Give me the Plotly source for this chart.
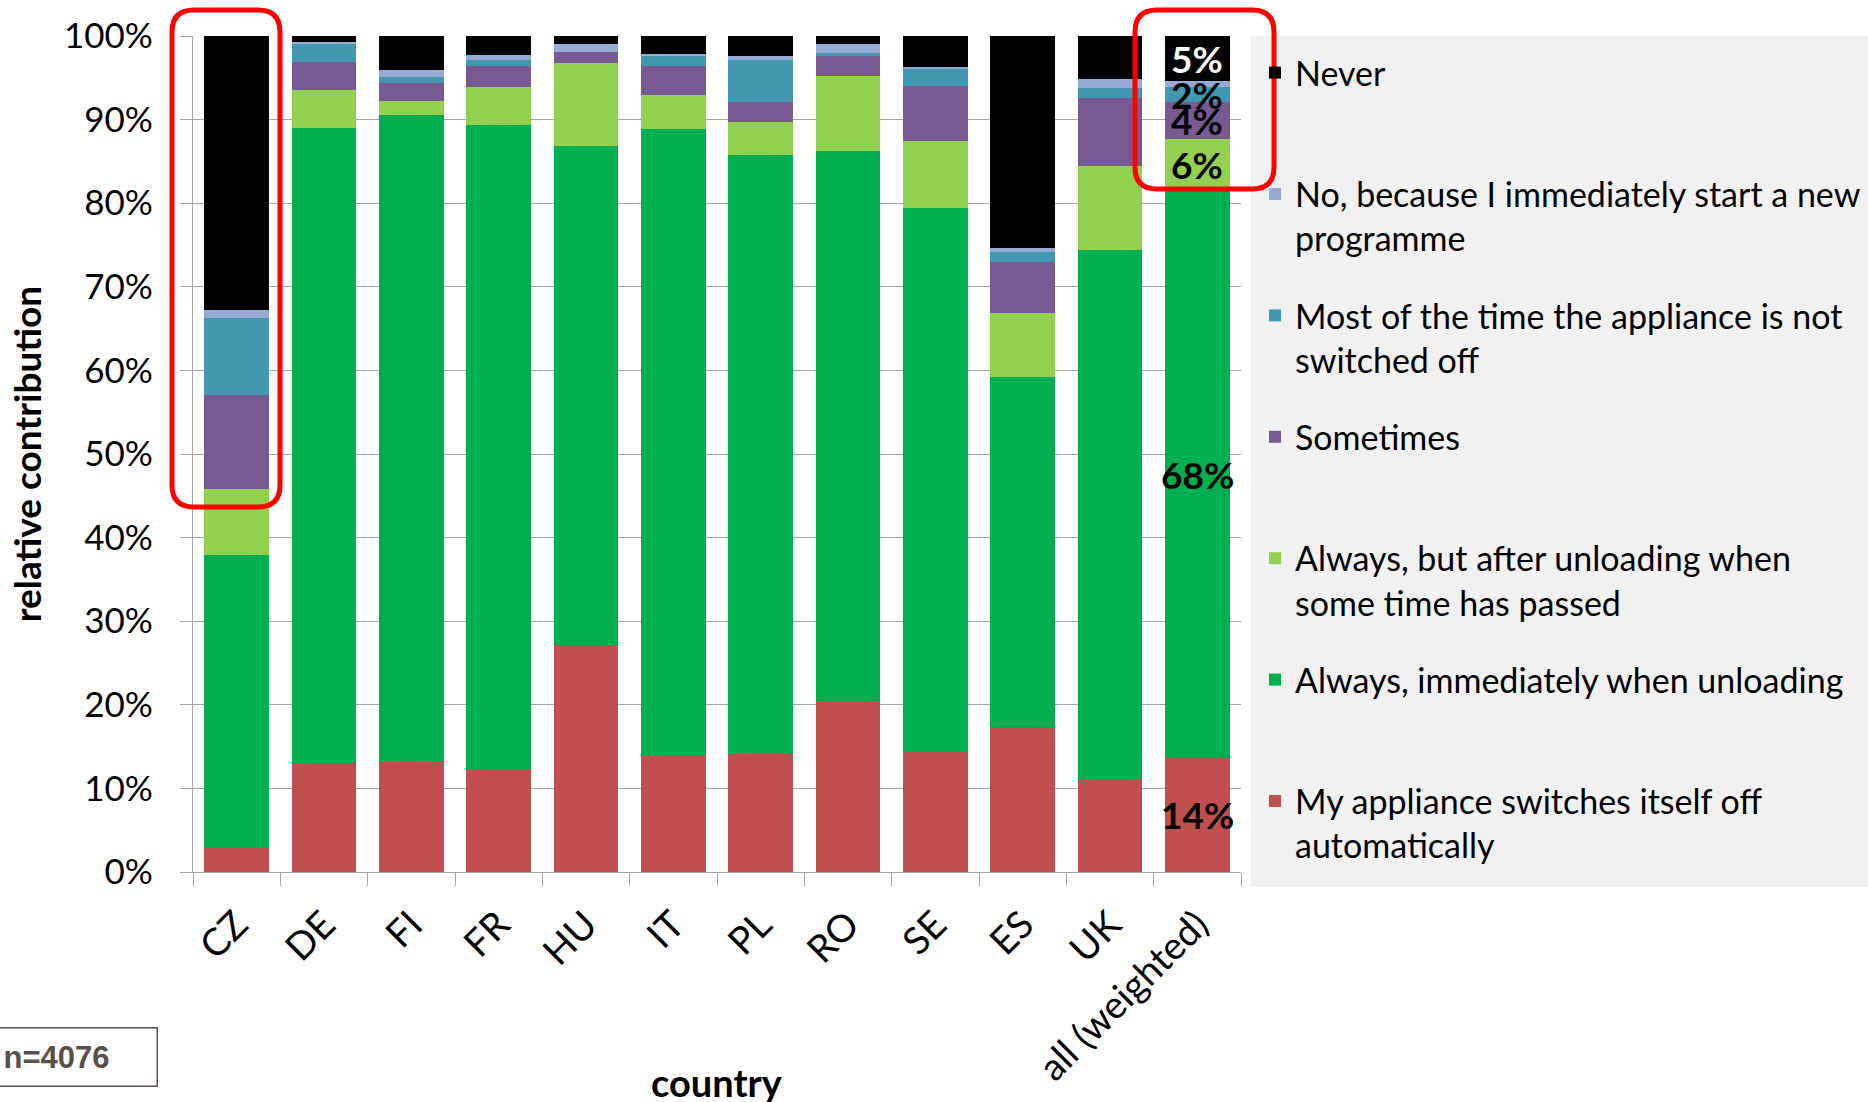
import plotly.graph_objects as go

# --- data -------------------------------------------------------------------
categories = ["CZ", "DE", "FI", "FR", "HU", "IT", "PL", "RO", "SE", "ES", "UK",
              "all (weighted)"]

# shares of respondents (%) per answer, stacked from bottom to top
auto_off      = [2.9, 13.0, 13.1, 12.3, 27.2, 14.0, 14.1, 20.3, 14.3, 17.4, 11.1, 13.7]
immediately   = [35.0, 76.0, 77.4, 77.1, 59.7, 74.9, 71.7, 66.0, 65.1, 41.8, 63.3, 67.8]
after_waiting = [7.9, 4.5, 1.7, 4.5, 9.9, 4.1, 3.9, 8.9, 8.1, 7.7, 10.0, 6.2]
sometimes     = [11.2, 3.4, 2.2, 2.5, 1.3, 3.4, 2.4, 2.4, 6.5, 6.1, 8.2, 4.4]
mostly_on     = [9.3, 2.2, 0.7, 0.7, 0.0, 1.2, 5.0, 0.4, 2.0, 1.2, 1.2, 1.8]
new_programme = [0.9, 0.2, 0.8, 0.6, 0.9, 0.3, 0.5, 1.1, 0.3, 0.4, 1.1, 0.7]
never         = [32.8, 0.7, 4.1, 2.3, 1.0, 2.1, 2.4, 0.9, 3.7, 25.4, 5.1, 5.4]

answer_labels = [
    "My appliance switches itself off<br>automatically",
    "Always, immediately when unloading<br> ",
    "Always, but after unloading when<br>some time has passed",
    "Sometimes<br> ",
    "Most of the time the appliance is not<br>switched off",
    "No, because I immediately start a new<br>programme",
    "Never<br> ",
]
answer_values = [auto_off, immediately, after_waiting, sometimes, mostly_on,
                 new_programme, never]
answer_colors = ["#c0504d", "#00b050", "#92d050", "#765a91", "#4398b1",
                 "#95abd6", "#000000"]

# answers whose share is written on the weighted-average bar, with text colour
labelled_answers = {6: "white", 4: "black", 3: "black", 2: "black", 1: "black",
                    0: "black"}

n_label = "n=4076"

# --- layout geometry (pixels) -----------------------------------------------
W, H = 1868, 1102
PLOT_L, PLOT_R, PLOT_T, PLOT_B = 193, 1241, 36, 872
FONT = "Lato"


def paper_x(px):
    return (px - PLOT_L) / (PLOT_R - PLOT_L)


def paper_y(py):
    return (PLOT_B - py) / (PLOT_B - PLOT_T)


def rounded_box(x0, y0, x1, y1, r):
    """Rounded-rectangle SVG path in paper coordinates from pixel corners."""
    rx = r / (PLOT_R - PLOT_L)
    ry = r / (PLOT_B - PLOT_T)
    X0, X1 = paper_x(x0), paper_x(x1)
    Y0, Y1 = paper_y(y0), paper_y(y1)  # Y0 top, Y1 bottom
    return (f"M{X0 + rx},{Y0} L{X1 - rx},{Y0} Q{X1},{Y0} {X1},{Y0 - ry} "
            f"L{X1},{Y1 + ry} Q{X1},{Y1} {X1 - rx},{Y1} "
            f"L{X0 + rx},{Y1} Q{X0},{Y1} {X0},{Y1 + ry} "
            f"L{X0},{Y0 - ry} Q{X0},{Y0} {X0 + rx},{Y0} Z")


fig = go.Figure()

n_answers = len(answer_labels)
for i, (label, values, color) in enumerate(zip(answer_labels, answer_values,
                                               answer_colors)):
    fig.add_trace(go.Bar(
        x=categories, y=values, name=label, legendgroup=f"g{i}",
        legendrank=100 + 10 * (n_answers - i),  # top segment listed first
        marker=dict(color=color, line=dict(width=0)),
        hovertemplate="%{x}: %{y:.1f}%<extra></extra>",
    ))

# value labels on the weighted-average bar, placed at each segment's middle
last = len(categories) - 1
base = 0.0
annotations = []
for i, values in enumerate(answer_values):
    v = values[last]
    if i in labelled_answers:
        annotations.append(dict(
            x=categories[last], y=base + v / 2, xref="x", yref="y",
            text=f"{v:.0f}%", showarrow=False,
            font=dict(family=FONT, size=37, color=labelled_answers[i],
                      weight="bold"),
            xanchor="center", yanchor="middle",
        ))
    base += v

# x-axis title
annotations.append(dict(
    x=0.5, y=paper_y(1082), xref="paper", yref="paper", text="country",
    showarrow=False, font=dict(family=FONT, size=38, color="black",
                               weight="bold"),
    xanchor="center", yanchor="middle",
))

# sample-size note
annotations.append(dict(
    x=paper_x(-8), y=paper_y(1027), xref="paper", yref="paper", text=n_label,
    showarrow=False, align="left", xanchor="left", yanchor="top",
    width=143, height=37, borderpad=10, borderwidth=1.5,
    bordercolor="#5a5049",
    font=dict(family="Liberation Sans", size=31, color="#5a5049",
              weight="bold"),
))

shapes = [
    # legend background panel
    dict(type="rect", xref="paper", yref="paper", layer="below",
         x0=paper_x(1251), x1=paper_x(1880), y0=paper_y(887), y1=paper_y(36),
         fillcolor="#f1f1f1", line=dict(width=0)),
    # highlight frames
    dict(type="path", xref="paper", yref="paper",
         path=rounded_box(172, 10, 280, 507, 22),
         line=dict(color="#ff0000", width=5)),
    dict(type="path", xref="paper", yref="paper",
         path=rounded_box(1135, 10, 1274, 189, 22),
         line=dict(color="#ff0000", width=5)),
]

fig.update_layout(
    width=W, height=H,
    template=None,
    paper_bgcolor="white", plot_bgcolor="white",
    margin=dict(l=PLOT_L, r=W - PLOT_R, t=PLOT_T, b=H - PLOT_B,
                autoexpand=False),
    barmode="stack", bargap=0.256,
    font=dict(family=FONT, color="black"),
    showlegend=True,
    legend=dict(
        x=paper_x(1255), y=paper_y(44), xanchor="left", yanchor="top",
        bgcolor="rgba(0,0,0,0)", borderwidth=0,
        font=dict(family=FONT, size=34, color="black"),
        traceorder="grouped", tracegroupgap=30, valign="top",
    ),
    xaxis=dict(
        type="category", range=[-0.5, len(categories) - 0.5],
        tickangle=-45, ticks="outside", tickson="boundaries", ticklen=13,
        tickcolor="#a6a6a6", tickwidth=1.3,
        showline=True, linecolor="#a6a6a6", linewidth=1.3,
        showgrid=False, zeroline=False,
        tickfont=dict(family=FONT, size=38, color="black"),
        ticklabelstandoff=14,
    ),
    yaxis=dict(
        range=[0, 100], dtick=10, ticksuffix="%",
        ticks="outside", ticklen=12, tickcolor="#a6a6a6", tickwidth=1.3,
        showline=True, linecolor="#a6a6a6", linewidth=1.3,
        showgrid=True, gridcolor="#a6a6a6", gridwidth=1.3, zeroline=False,
        tickfont=dict(family=FONT, size=35, color="black"),
        ticklabelstandoff=20,
        title=dict(text="relative contribution", standoff=10,
                   font=dict(family=FONT, size=37, color="black",
                             weight="bold")),
    ),
    annotations=annotations,
    shapes=shapes,
)

fig.write_html("out.html")
